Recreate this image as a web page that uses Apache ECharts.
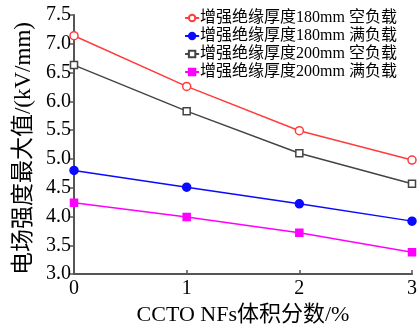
<!DOCTYPE html>
<html>
<head>
<meta charset="utf-8">
<script src="https://cdn.jsdelivr.net/npm/echarts@6/dist/echarts.min.js"></script>
<style>html,body{margin:0;padding:0;background:#fff}#c{width:420px;height:331px}</style>
</head>
<body>
<div id="c"></div>
<script>
const xValues = [0, 1, 2, 3];
const seriesNames = ['增强绝缘厚度180mm 空负载', '增强绝缘厚度180mm 满负载', '增强绝缘厚度200mm 空负载', '增强绝缘厚度200mm 满负载'];
const s180Empty = [7.14, 6.26, 5.49, 4.98];
const s180Full = [4.80, 4.51, 4.22, 3.92];
const s200Empty = [6.63, 5.83, 5.10, 4.57];
const s200Full = [4.24, 3.99, 3.72, 3.38];
const xTitle = 'CCTO NFs体积分数/%';
const yTitle = '电场强度最大值/(kV/mm)';

const FONT = "'Liberation Serif', 'Noto Sans CJK SC', serif";
const pair = (arr) => arr.map((v, i) => [xValues[i], v]);

const styles = [
  {color: '#ff3b3b', symbol: 'circle', size: 8, fill: '#ffffff'},
  {color: '#0a0aff', symbol: 'circle', size: 8, fill: '#0a0aff'},
  {color: '#444444', symbol: 'rect', size: 7, fill: '#ffffff'},
  {color: '#ff00ff', symbol: 'rect', size: 7, fill: '#ff00ff'}
];
const datas = [s180Empty, s180Full, s200Empty, s200Full];

const chart = echarts.init(document.getElementById('c'), null, {renderer: 'canvas'});
chart.setOption({
  animation: false,
  textStyle: {fontFamily: FONT},
  grid: {left: 74, right: 6, top: 15, bottom: 52, containLabel: false},
  legend: {
    orient: 'vertical', right: 18, top: 5,
    itemWidth: 14, itemHeight: 8, itemGap: 2,
    textStyle: {fontFamily: FONT, fontSize: 16, color: '#000', padding: [0, 0, 0, -4]},
    data: seriesNames
  },
  xAxis: {
    type: 'value', min: 0, max: 3, interval: 1,
    name: xTitle, nameLocation: 'middle', nameGap: 29,
    nameTextStyle: {fontFamily: FONT, fontSize: 22, color: '#000'},
    axisLine: {onZero: false, lineStyle: {color: '#555', width: 2}},
    axisTick: {inside: true, length: 4, lineStyle: {color: '#555', width: 1.5}},
    axisLabel: {fontFamily: FONT, fontSize: 20, color: '#000', margin: 5},
    splitLine: {show: false}
  },
  yAxis: {
    type: 'value', min: 3, max: 7.5, interval: 0.5,
    name: yTitle, nameLocation: 'middle', nameGap: 34,
    nameTextStyle: {fontFamily: FONT, fontSize: 23, color: '#000', padding: [0, 8, 0, 0]},
    axisLine: {show: true, lineStyle: {color: '#555', width: 2}},
    axisTick: {show: true, inside: false, length: 5, lineStyle: {color: '#555', width: 1.5}},
    axisLabel: {fontFamily: FONT, fontSize: 20, color: '#000', margin: 3, formatter: v => v.toFixed(1)},
    splitLine: {show: false}
  },
  series: datas.map((d, i) => ({
    name: seriesNames[i],
    type: 'line',
    data: pair(d),
    symbol: styles[i].symbol,
    symbolSize: styles[i].size,
    showAllSymbol: true,
    lineStyle: {color: styles[i].color, width: 1.5},
    itemStyle: {color: styles[i].fill, borderColor: styles[i].color, borderWidth: 1.5}
  }))
});
</script>
</body>
</html>
